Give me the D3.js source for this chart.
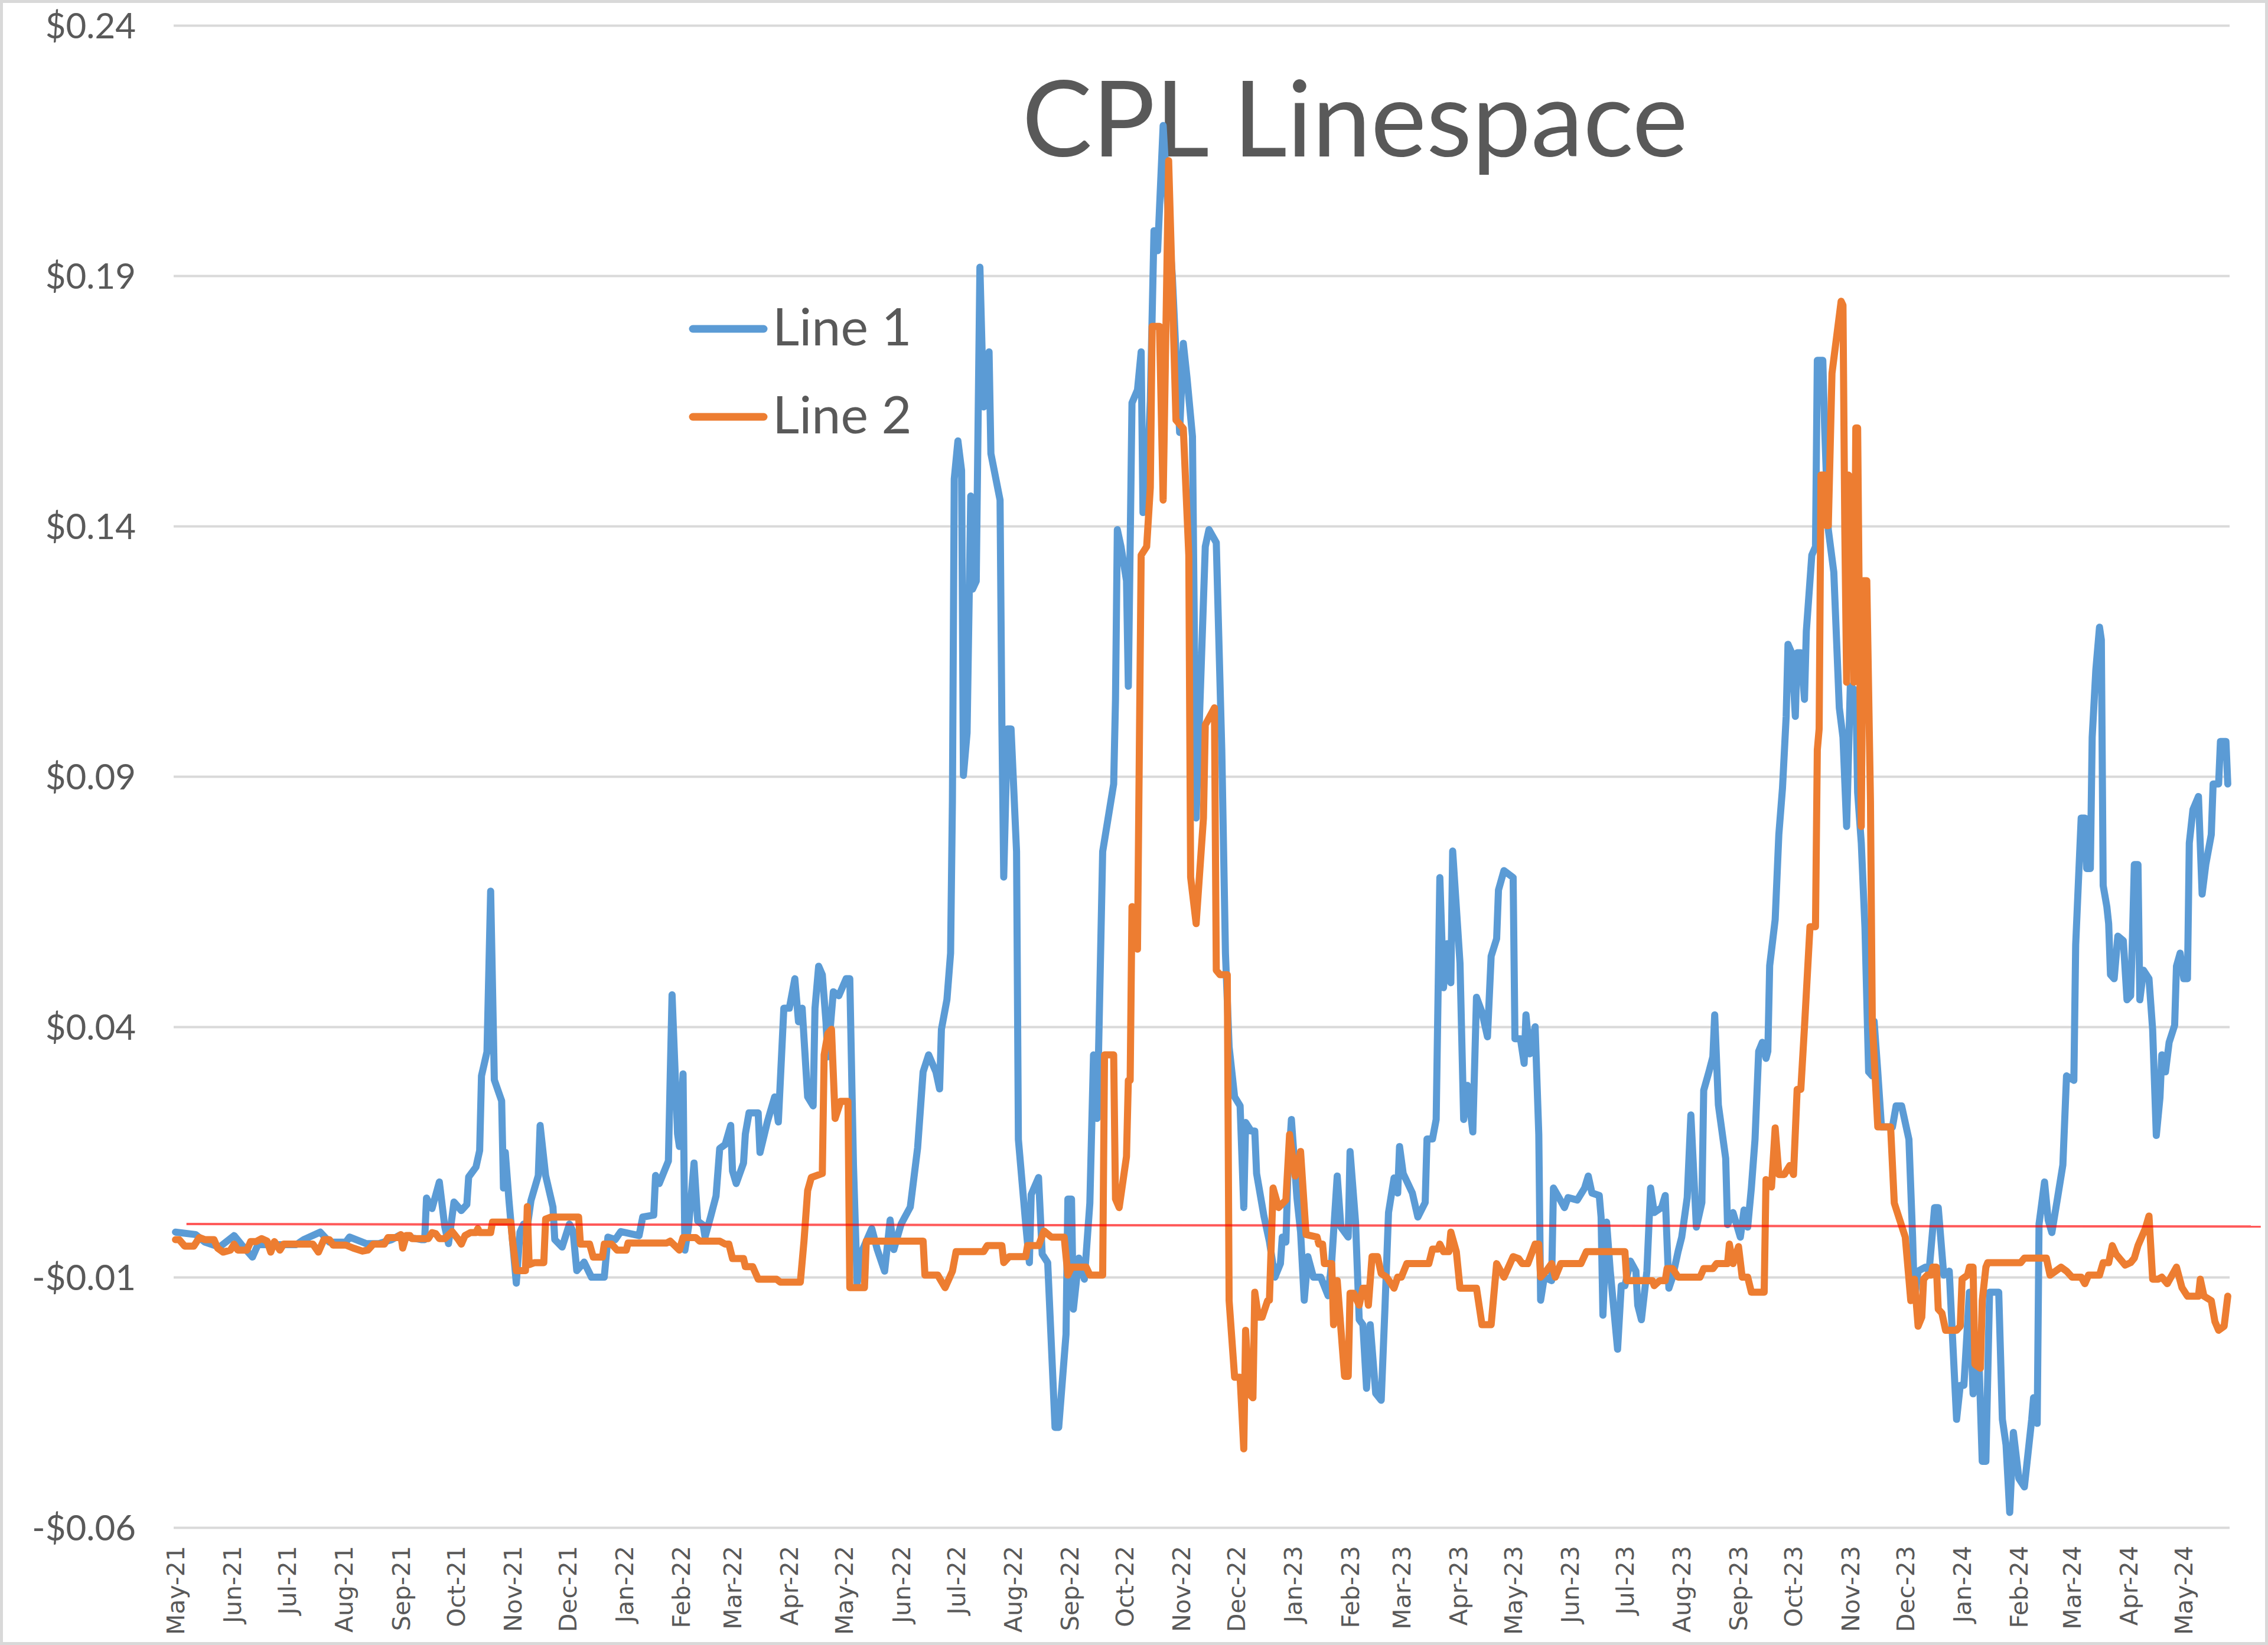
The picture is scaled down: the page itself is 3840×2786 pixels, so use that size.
<!DOCTYPE html>
<meta charset="utf-8">
<head>
  <title>CPL Linespace</title>
</head>
<style>
body { margin: 0; background: #fff; }
.ylab text { font-family: Lato, "Open Sans", sans-serif; font-size: 60px; fill: #595959; }
.xlab text { font-family: "DejaVu Sans", sans-serif; font-size: 41px; fill: #595959; }
</style>
<body>
<script src="https://d3js.org/d3.v7.min.js"></script>
<script>

// Line 1 (blue)
var line1Data = [
["2021-05-01",-0.001],["2021-05-12",-0.0015],["2021-05-17",-0.003],["2021-05-25",-0.004],["2021-06-02",-0.0017],["2021-06-06",-0.0035],["2021-06-12",-0.006],["2021-06-15",-0.0035],["2021-07-06",-0.0035],["2021-07-10",-0.0025],["2021-07-19",-0.001],["2021-07-24",-0.003],["2021-08-02",-0.003],["2021-08-04",-0.002],["2021-08-13",-0.0033],["2021-08-20",-0.0033],["2021-08-27",-0.0025],["2021-08-31",-0.0017],["2021-09-12",-0.0025],["2021-09-14",-0.0025],["2021-09-15",0.0058],["2021-09-18",0.0037],["2021-09-22",0.009],["2021-09-25",0.0],["2021-09-27",-0.0033],["2021-09-30",0.005],["2021-10-04",0.0033],["2021-10-07",0.0045],["2021-10-08",0.010],["2021-10-12",0.012],["2021-10-14",0.0153],["2021-10-15",0.0302],["2021-10-18",0.035],["2021-10-20",0.0671],["2021-10-22",0.0294],["2021-10-26",0.0252],["2021-10-27",0.0078],["2021-10-28",0.0149],["2021-10-30",0.0053],["2021-11-01",-0.003],["2021-11-03",-0.0112],["2021-11-05",-0.001],["2021-11-07",0.0006],["2021-11-09",0.0],["2021-11-11",0.0053],["2021-11-15",0.0103],["2021-11-16",0.0203],["2021-11-19",0.0103],["2021-11-23",0.004],["2021-11-24",-0.0025],["2021-11-28",-0.004],["2021-12-02",0.0006],["2021-12-04",-0.0009],["2021-12-06",-0.0087],["2021-12-10",-0.007],["2021-12-14",-0.01],["2021-12-21",-0.01],["2021-12-23",-0.002],["2021-12-27",-0.0025],["2021-12-30",-0.0009],
["2022-01-09",-0.0017],["2022-01-11",0.002],["2022-01-17",0.0024],["2022-01-18",0.0103],["2022-01-20",0.0087],["2022-01-25",0.0132],["2022-01-26",0.0302],["2022-01-27",0.0464],["2022-01-30",0.0186],["2022-01-31",0.0161],["2022-02-02",0.0306],["2022-02-03",-0.0046],["2022-02-05",0.0],["2022-02-08",0.0128],["2022-02-10",0.0012],["2022-02-13",0.0004],["2022-02-14",-0.002],["2022-02-17",0.002],["2022-02-20",0.0062],["2022-02-22",0.0157],["2022-02-25",0.0165],["2022-02-28",0.0203],["2022-03-01",0.0112],["2022-03-03",0.0087],["2022-03-07",0.0128],["2022-03-08",0.0186],["2022-03-10",0.0228],["2022-03-15",0.0228],["2022-03-16",0.0149],["2022-03-20",0.021],["2022-03-24",0.026],["2022-03-26",0.021],["2022-03-29",0.0437],["2022-04-01",0.0437],["2022-04-04",0.0496],["2022-04-06",0.041],["2022-04-08",0.0437],["2022-04-11",0.026],["2022-04-14",0.0242],["2022-04-15",0.0437],["2022-04-17",0.0521],["2022-04-19",0.0504],["2022-04-21",0.041],["2022-04-22",0.034],["2022-04-25",0.047],["2022-04-28",0.0462],["2022-05-02",0.0496],["2022-05-04",0.0496],["2022-05-06",0.0124],["2022-05-08",-0.0113],["2022-05-11",-0.0045],["2022-05-16",-0.0003],["2022-05-19",-0.0045],["2022-05-23",-0.0088],["2022-05-26",0.0014],["2022-05-28",-0.0045],["2022-06-01",0.0006],["2022-06-06",0.004],["2022-06-08",0.0099],["2022-06-10",0.0158],["2022-06-13",0.031],["2022-06-16",0.0344],["2022-06-20",0.031],["2022-06-22",0.0276],["2022-06-23",0.0395],["2022-06-26",0.0454],["2022-06-28",0.0547],["2022-06-29",0.0851],["2022-06-30",0.1494],["2022-07-02",0.157],["2022-07-04",0.1511],["2022-07-05",0.0902],["2022-07-07",0.0987],["2022-07-09",0.146],["2022-07-10",0.1274],["2022-07-12",0.129],["2022-07-14",0.1917],["2022-07-16",0.1638],["2022-07-19",0.1748],["2022-07-20",0.1545],["2022-07-25",0.1452],["2022-07-26",0.1003],["2022-07-27",0.0699],["2022-07-29",0.0995],["2022-07-31",0.0995],["2022-08-03",0.075],["2022-08-04",0.0175],["2022-08-08",0.0006],["2022-08-10",-0.0071],["2022-08-11",0.0065],["2022-08-15",0.0099],["2022-08-17",-0.0054],["2022-08-20",-0.0071],["2022-08-24",-0.04],["2022-08-26",-0.04],["2022-08-30",-0.0214],["2022-08-31",0.0056],["2022-09-02",0.0056],["2022-09-03",-0.0164],["2022-09-06",-0.0062],["2022-09-09",-0.0104],["2022-09-12",0.0048],["2022-09-14",0.0344],["2022-09-16",0.0217],["2022-09-19",0.075],["2022-09-25",0.0885],["2022-09-26",0.1054],["2022-09-27",0.1393],["2022-09-29",0.1359],["2022-10-02",0.1291],["2022-10-03",0.108],["2022-10-05",0.1646],["2022-10-08",0.1672],["2022-10-10",0.1748],["2022-10-11",0.1427],["2022-10-13",0.1477],["2022-10-15",0.165],["2022-10-17",0.199],["2022-10-19",0.195],["2022-10-22",0.220],["2022-10-24",0.207],["2022-10-26",0.195],["2022-10-27",0.19],["2022-10-31",0.1587],["2022-11-02",0.1765],["2022-11-04",0.1697],["2022-11-07",0.1579],["2022-11-09",0.0817],["2022-11-11",0.1037],["2022-11-14",0.1359],["2022-11-16",0.1393],["2022-11-20",0.1367],["2022-11-23",0.0953],["2022-11-25",0.0547],["2022-11-27",0.036],["2022-11-30",0.026],["2022-12-03",0.0242],["2022-12-05",0.0039],["2022-12-06",0.0209],["2022-12-09",0.0192],["2022-12-11",0.0192],["2022-12-12",0.0107],["2022-12-16",0.0022],["2022-12-19",-0.0029],["2022-12-22",-0.01],["2022-12-25",-0.0073],["2022-12-26",-0.002],["2022-12-28",-0.003],["2022-12-29",0.0098],["2022-12-31",0.0215],
["2023-01-03",0.0059],["2023-01-05",-0.001],["2023-01-07",-0.0146],["2023-01-09",-0.0059],["2023-01-12",-0.01],["2023-01-16",-0.01],["2023-01-20",-0.0137],["2023-01-22",-0.0068],["2023-01-25",0.0102],["2023-01-27",0.0],["2023-01-31",-0.002],["2023-02-01",0.0151],["2023-02-04",0.001],["2023-02-06",-0.0185],["2023-02-08",-0.0195],["2023-02-10",-0.0322],["2023-02-12",-0.0195],["2023-02-15",-0.0332],["2023-02-18",-0.0346],["2023-02-20",-0.0166],["2023-02-22",0.0029],["2023-02-25",0.0098],["2023-02-27",0.0068],["2023-02-28",0.0161],["2023-03-02",0.0107],["2023-03-07",0.0068],["2023-03-10",0.002],["2023-03-14",0.0049],["2023-03-15",0.0176],["2023-03-18",0.0176],["2023-03-20",0.0215],["2023-03-22",0.0698],["2023-03-24",0.0478],["2023-03-26",0.0566],["2023-03-28",0.0488],["2023-03-29",0.0751],["2023-04-02",0.0527],["2023-04-04",0.0215],["2023-04-06",0.0283],["2023-04-09",0.019],["2023-04-11",0.0459],["2023-04-14",0.0429],["2023-04-17",0.038],["2023-04-19",0.0541],["2023-04-22",0.0576],["2023-04-23",0.0673],["2023-04-26",0.0712],["2023-05-01",0.0698],["2023-05-02",0.0376],["2023-05-05",0.0376],["2023-05-07",0.0327],["2023-05-08",0.0424],["2023-05-10",0.0346],["2023-05-13",0.040],["2023-05-15",0.0185],["2023-05-16",-0.0146],["2023-05-18",-0.01],["2023-05-22",-0.0107],["2023-05-23",0.0078],["2023-05-26",0.0059],["2023-05-29",0.0039],["2023-05-31",0.0059],["2023-06-05",0.0054],["2023-06-09",0.0078],["2023-06-11",0.0102],["2023-06-13",0.0068],["2023-06-17",0.0063],["2023-06-18",0.002],["2023-06-19",-0.0176],["2023-06-21",0.001],["2023-06-23",-0.0088],["2023-06-27",-0.0244],["2023-06-29",-0.0117],["2023-07-01",-0.0117],["2023-07-04",-0.0068],["2023-07-07",-0.0088],["2023-07-08",-0.0156],["2023-07-10",-0.0185],["2023-07-13",-0.0088],["2023-07-15",0.0078],["2023-07-17",0.0029],["2023-07-21",0.0039],["2023-07-23",0.0063],["2023-07-25",-0.0122],["2023-07-27",-0.01],["2023-07-30",-0.0049],["2023-08-01",-0.002],["2023-08-04",0.0059],["2023-08-06",0.0224],["2023-08-09",0.0],["2023-08-12",0.0049],["2023-08-13",0.0273],["2023-08-16",0.0312],["2023-08-18",0.034],["2023-08-19",0.0424],["2023-08-21",0.0244],["2023-08-25",0.0137],["2023-08-26",0.0005],["2023-08-29",0.0029],["2023-09-02",-0.002],["2023-09-04",0.0034],["2023-09-06",0.0],["2023-09-08",0.0078],["2023-09-10",0.0175],["2023-09-12",0.0351],["2023-09-14",0.0369],["2023-09-16",0.0337],["2023-09-17",0.0351],["2023-09-18",0.0522],["2023-09-21",0.0614],["2023-09-23",0.0784],["2023-09-25",0.0877],["2023-09-27",0.102],["2023-09-28",0.1164],["2023-09-30",0.1147],["2023-10-02",0.102],["2023-10-03",0.1147],["2023-10-05",0.1147],["2023-10-07",0.1054],["2023-10-08",0.119],["2023-10-11",0.1342],["2023-10-13",0.1359],["2023-10-14",0.1731],["2023-10-17",0.1731],["2023-10-18",0.1596],["2023-10-20",0.1393],["2023-10-23",0.1308],["2023-10-26",0.1037],["2023-10-28",0.0978],["2023-10-30",0.08],["2023-11-01",0.108],["2023-11-04",0.1071],["2023-11-05",0.0868],["2023-11-07",0.0767],["2023-11-09",0.0598],["2023-11-11",0.031],["2023-11-13",0.0302],["2023-11-14",0.0411],["2023-11-16",0.031],["2023-11-18",0.02],["2023-11-24",0.02],["2023-11-26",0.0242],["2023-11-29",0.0242],["2023-12-03",0.0175],["2023-12-05",-0.002],["2023-12-06",-0.0147],["2023-12-08",-0.0088],["2023-12-12",-0.008],["2023-12-14",-0.0088],["2023-12-17",0.0039],["2023-12-19",0.0039],["2023-12-22",-0.0096],["2023-12-25",-0.0088],["2023-12-29",-0.0384],["2023-12-31",-0.0316],
["2024-01-02",-0.0316],["2024-01-05",-0.013],["2024-01-07",-0.0333],["2024-01-10",-0.024],["2024-01-12",-0.0468],["2024-01-14",-0.0468],["2024-01-16",-0.013],["2024-01-21",-0.013],["2024-01-23",-0.0384],["2024-01-25",-0.0435],["2024-01-27",-0.057],["2024-01-29",-0.041],["2024-02-01",-0.0502],["2024-02-04",-0.0519],["2024-02-08",-0.0384],["2024-02-09",-0.0341],["2024-02-11",-0.0392],["2024-02-12",0.0006],["2024-02-15",0.009],["2024-02-17",0.0014],["2024-02-19",-0.0011],["2024-02-22",0.0056],["2024-02-25",0.0124],["2024-02-27",0.0302],["2024-03-02",0.0293],["2024-03-03",0.0564],["2024-03-05",0.0733],["2024-03-06",0.0817],["2024-03-08",0.0817],["2024-03-09",0.0716],["2024-03-11",0.0716],["2024-03-12",0.0978],["2024-03-14",0.1113],["2024-03-16",0.1198],["2024-03-17",0.1173],["2024-03-18",0.0682],["2024-03-20",0.064],["2024-03-21",0.0606],["2024-03-22",0.0504],["2024-03-24",0.0496],["2024-03-26",0.0581],["2024-03-29",0.0572],["2024-03-31",0.0454],["2024-04-02",0.0462],["2024-04-03",0.0581],["2024-04-04",0.0724],["2024-04-06",0.0724],["2024-04-07",0.0454],["2024-04-09",0.0513],["2024-04-12",0.0496],["2024-04-14",0.0394],["2024-04-16",0.0183],["2024-04-18",0.0259],["2024-04-19",0.0344],["2024-04-21",0.031],["2024-04-23",0.0369],["2024-04-26",0.0403],["2024-04-27",0.0521],["2024-04-29",0.0547],["2024-05-01",0.0496],["2024-05-03",0.0496],["2024-05-04",0.0767],["2024-05-06",0.0834],["2024-05-09",0.086],["2024-05-11",0.0665],["2024-05-13",0.0724],["2024-05-16",0.0784],["2024-05-17",0.0885],["2024-05-20",0.0885],["2024-05-21",0.097],["2024-05-24",0.097],["2024-05-25",0.0885]
];

// Line 2 (orange)
var line2Data = [
["2021-05-01",-0.0025],["2021-05-03",-0.0025],["2021-05-06",-0.0038],["2021-05-11",-0.0038],["2021-05-14",-0.0021],["2021-05-17",-0.0025],["2021-05-22",-0.0025],["2021-05-24",-0.0042],["2021-05-27",-0.005],["2021-05-31",-0.0046],["2021-06-02",-0.0034],["2021-06-04",-0.0046],["2021-06-09",-0.0046],["2021-06-11",-0.0029],["2021-06-14",-0.0029],["2021-06-17",-0.0023],["2021-06-20",-0.0028],["2021-06-22",-0.005],["2021-06-24",-0.0029],["2021-06-27",-0.0046],["2021-06-29",-0.0034],["2021-07-15",-0.0034],["2021-07-18",-0.005],["2021-07-21",-0.0025],["2021-07-24",-0.0025],["2021-07-26",-0.0036],["2021-08-02",-0.0036],["2021-08-06",-0.0042],["2021-08-11",-0.0048],["2021-08-14",-0.0046],["2021-08-17",-0.0034],["2021-08-23",-0.0034],["2021-08-25",-0.0021],["2021-08-30",-0.0021],["2021-09-01",-0.0015],["2021-09-02",-0.0042],["2021-09-04",-0.0017],["2021-09-06",-0.0017],["2021-09-07",-0.0023],["2021-09-16",-0.0023],["2021-09-18",-0.0011],["2021-09-20",-0.0013],["2021-09-22",-0.0023],["2021-09-25",-0.0023],["2021-09-29",-0.0009],["2021-10-02",-0.0023],["2021-10-04",-0.0034],["2021-10-06",-0.0017],["2021-10-09",-0.0011],["2021-10-12",-0.0011],["2021-10-13",-0.0003],["2021-10-14",-0.0011],["2021-10-20",-0.0011],["2021-10-21",0.001],["2021-10-31",0.001],["2021-11-01",-0.0029],["2021-11-03",-0.0087],["2021-11-08",-0.0087],["2021-11-09",0.0041],["2021-11-10",-0.0075],["2021-11-13",-0.0071],["2021-11-18",-0.0071],["2021-11-19",0.0016],["2021-11-22",0.002],["2021-12-07",0.002],["2021-12-08",-0.0034],["2021-12-13",-0.0034],["2021-12-15",-0.006],["2021-12-20",-0.006],["2021-12-21",-0.0034],["2021-12-25",-0.0034],["2021-12-28",-0.0046],
["2022-01-02",-0.0046],["2022-01-03",-0.0032],["2022-01-24",-0.0032],["2022-01-26",-0.0028],["2022-01-31",-0.0046],["2022-02-02",-0.0021],["2022-02-09",-0.0021],["2022-02-11",-0.0028],["2022-02-22",-0.0028],["2022-02-25",-0.0034],["2022-02-27",-0.0034],["2022-03-01",-0.0063],["2022-03-07",-0.0063],["2022-03-08",-0.0079],["2022-03-12",-0.0079],["2022-03-15",-0.0104],["2022-03-25",-0.0104],["2022-03-27",-0.011],["2022-04-07",-0.011],["2022-04-09",-0.0028],["2022-04-11",0.0073],["2022-04-13",0.0099],["2022-04-19",0.0107],["2022-04-20",0.0344],["2022-04-22",0.0386],["2022-04-24",0.0395],["2022-04-26",0.0217],["2022-04-29",0.0251],["2022-05-03",0.0251],["2022-05-04",-0.0121],["2022-05-12",-0.0121],["2022-05-13",-0.0028],["2022-06-13",-0.0028],["2022-06-14",-0.0096],["2022-06-21",-0.0096],["2022-06-25",-0.0121],["2022-06-29",-0.0088],["2022-07-01",-0.0049],["2022-07-16",-0.0049],["2022-07-18",-0.0037],["2022-07-26",-0.0037],["2022-07-27",-0.0071],["2022-07-30",-0.0059],["2022-08-08",-0.0059],["2022-08-09",-0.0037],["2022-08-15",-0.0037],["2022-08-18",-0.0008],["2022-08-22",-0.002],["2022-08-29",-0.002],["2022-08-31",-0.0096],["2022-09-02",-0.008],["2022-09-10",-0.008],["2022-09-12",-0.0096],["2022-09-19",-0.0096],["2022-09-20",0.0344],["2022-09-25",0.0344],["2022-09-26",0.0056],["2022-09-28",0.0039],["2022-10-02",0.0141],["2022-10-03",0.0293],["2022-10-04",0.0293],["2022-10-05",0.064],["2022-10-08",0.0555],["2022-10-10",0.1342],["2022-10-13",0.1359],["2022-10-15",0.1477],["2022-10-16",0.1799],["2022-10-20",0.1799],["2022-10-22",0.1452],["2022-10-25",0.213],["2022-10-29",0.1612],["2022-11-02",0.1595],["2022-11-05",0.1342],["2022-11-06",0.0699],["2022-11-09",0.0606],["2022-11-13",0.0817],["2022-11-14",0.1003],["2022-11-19",0.1037],["2022-11-20",0.0513],["2022-11-22",0.0504],["2022-11-26",0.0504],["2022-11-27",-0.0147],["2022-11-30",-0.03],["2022-12-03",-0.03],["2022-12-05",-0.0443],["2022-12-06",-0.0206],["2022-12-08",-0.0333],["2022-12-10",-0.0341],["2022-12-11",-0.013],["2022-12-13",-0.018],["2022-12-15",-0.018],["2022-12-18",-0.0147],["2022-12-19",-0.0146],["2022-12-21",0.0078],["2022-12-24",0.0039],["2022-12-28",0.0054],["2022-12-30",0.0185],
["2023-01-02",0.0102],["2023-01-05",0.0151],["2023-01-08",-0.0015],["2023-01-14",-0.002],["2023-01-15",-0.0034],["2023-01-17",-0.0034],["2023-01-18",-0.0073],["2023-01-22",-0.0073],["2023-01-23",-0.0195],["2023-01-25",-0.0107],["2023-01-29",-0.0298],["2023-01-31",-0.0298],["2023-02-01",-0.0132],["2023-02-03",-0.0132],["2023-02-06",-0.0156],["2023-02-08",-0.0122],["2023-02-10",-0.0122],["2023-02-11",-0.0156],["2023-02-13",-0.0059],["2023-02-16",-0.0059],["2023-02-18",-0.0093],["2023-02-21",-0.01],["2023-02-25",-0.0122],["2023-02-27",-0.01],["2023-03-01",-0.01],["2023-03-04",-0.0073],["2023-03-16",-0.0073],["2023-03-18",-0.0044],["2023-03-21",-0.0044],["2023-03-22",-0.0034],["2023-03-24",-0.0049],["2023-03-27",-0.0049],["2023-03-28",-0.001],["2023-03-31",-0.0049],["2023-04-02",-0.0122],["2023-04-11",-0.0122],["2023-04-14",-0.0195],["2023-04-19",-0.0195],["2023-04-22",-0.0073],["2023-04-26",-0.01],["2023-05-01",-0.0059],["2023-05-04",-0.0063],["2023-05-06",-0.0073],["2023-05-09",-0.0073],["2023-05-13",-0.0034],["2023-05-15",-0.0034],["2023-05-16",-0.01],["2023-05-19",-0.0088],["2023-05-22",-0.0073],["2023-05-24",-0.01],["2023-05-27",-0.0073],["2023-06-07",-0.0073],["2023-06-10",-0.0049],["2023-07-01",-0.0049],["2023-07-02",-0.0107],["2023-07-16",-0.0107],["2023-07-17",-0.0117],["2023-07-20",-0.0107],["2023-07-23",-0.0107],["2023-07-24",-0.0083],["2023-07-27",-0.0083],["2023-07-30",-0.01],["2023-08-11",-0.01],["2023-08-13",-0.0083],["2023-08-18",-0.0083],["2023-08-20",-0.0073],["2023-08-26",-0.0073],["2023-08-27",-0.0034],["2023-08-29",-0.0073],["2023-09-01",-0.0039],["2023-09-03",-0.01],["2023-09-06",-0.01],["2023-09-08",-0.013],["2023-09-15",-0.013],["2023-09-16",0.0095],["2023-09-19",0.008],["2023-09-21",0.0198],["2023-09-23",0.0105],["2023-09-26",0.0105],["2023-09-29",0.0123],["2023-10-01",0.0105],["2023-10-03",0.0275],["2023-10-05",0.0275],["2023-10-07",0.040],["2023-10-10",0.060],["2023-10-13",0.060],["2023-10-14",0.0953],["2023-10-15",0.0995],["2023-10-16",0.1502],["2023-10-18",0.1502],["2023-10-19",0.1401],["2023-10-20",0.1401],["2023-10-22",0.1705],["2023-10-27",0.1849],["2023-10-28",0.1841],["2023-10-29",0.1393],["2023-10-30",0.1088],["2023-10-31",0.1502],["2023-11-02",0.1494],["2023-11-03",0.1088],["2023-11-04",0.1596],["2023-11-05",0.1596],["2023-11-07",0.08],["2023-11-08",0.1291],["2023-11-10",0.1291],["2023-11-12",0.0851],["2023-11-13",0.0411],["2023-11-16",0.02],["2023-11-23",0.02],["2023-11-25",0.0048],["2023-11-28",0.0014],["2023-12-01",-0.002],["2023-12-03",-0.0104],["2023-12-04",-0.0147],["2023-12-06",-0.0104],["2023-12-08",-0.0198],["2023-12-10",-0.018],["2023-12-11",-0.0104],["2023-12-13",-0.0096],["2023-12-15",-0.0096],["2023-12-16",-0.008],["2023-12-18",-0.008],["2023-12-19",-0.0164],["2023-12-21",-0.0172],["2023-12-23",-0.0206],["2023-12-29",-0.0206],["2023-12-31",-0.0198],
["2024-01-01",-0.0104],["2024-01-04",-0.0096],["2024-01-05",-0.008],["2024-01-07",-0.008],["2024-01-08",-0.0274],["2024-01-11",-0.0282],["2024-01-12",-0.0147],["2024-01-14",-0.008],["2024-01-15",-0.0071],["2024-02-02",-0.0071],["2024-02-04",-0.0062],["2024-02-16",-0.0062],["2024-02-18",-0.0096],["2024-02-24",-0.008],["2024-02-27",-0.0088],["2024-03-01",-0.01],["2024-03-06",-0.01],["2024-03-08",-0.0113],["2024-03-10",-0.0096],["2024-03-16",-0.0096],["2024-03-18",-0.0071],["2024-03-21",-0.0071],["2024-03-23",-0.0037],["2024-03-25",-0.0054],["2024-03-30",-0.0076],["2024-04-02",-0.0071],["2024-04-04",-0.0062],["2024-04-06",-0.0037],["2024-04-08",-0.002],["2024-04-10",-0.0003],["2024-04-12",0.0022],["2024-04-14",-0.0104],["2024-04-17",-0.0104],["2024-04-19",-0.01],["2024-04-22",-0.0113],["2024-04-27",-0.008],["2024-04-30",-0.0121],["2024-05-03",-0.0138],["2024-05-09",-0.0138],["2024-05-10",-0.0104],["2024-05-12",-0.0138],["2024-05-16",-0.0147],["2024-05-18",-0.0189],["2024-05-20",-0.0206],["2024-05-23",-0.0198],["2024-05-25",-0.0138]
];

var seriesNames = ["Line 1", "Line 2"];
var seriesColors = ["#5B9BD5", "#ED7D31"];
var yTicks = [-0.06, -0.01, 0.04, 0.09, 0.14, 0.19, 0.24];
var xRange = ["2021-04-30", "2024-05-26"];
var monthRange = ["2021-05-01", "2024-05-02"];
// hand drawn red line near zero
var redLine = [["2021-05-07", 0.0006], ["2024-06-12", 0.0001]];
var titleText = "CPL Linespace";

var width = 3840,
    height = 2786;
var margin = {top: 43, right: 65, bottom: 199, left: 294};

var parse = d3.utcParse("%Y-%m-%d");

var svg = d3.select("body").append("svg")
    .attr("width", width)
    .attr("height", height);

svg.append("rect")
    .attr("width", width)
    .attr("height", height)
    .attr("fill", "#fff");

// chart border
svg.append("rect")
    .attr("x", 2.5).attr("y", 2.5)
    .attr("width", width - 5).attr("height", height - 5)
    .attr("fill", "none")
    .attr("stroke", "#d9d9d9")
    .attr("stroke-width", 5);

var x = d3.scaleUtc()
    .domain(xRange.map(parse))
    .range([margin.left, width - margin.right]);

var y = d3.scaleLinear()
    .domain([-0.06, 0.24])
    .range([height - margin.bottom, margin.top]);

function money(v) {
  var s = "$" + Math.abs(v).toFixed(2);
  return v < 0 ? "-" + s : s;
}

// y axis + gridlines
var yAxis = svg.append("g")
    .attr("class", "ylab")
    .attr("transform", "translate(" + margin.left + ",0)")
    .call(d3.axisLeft(y)
      .tickValues(yTicks)
      .tickSize(-(width - margin.left - margin.right))
      .tickPadding(64)
      .tickFormat(money));
yAxis.select(".domain").remove();
yAxis.selectAll("line")
    .attr("stroke", "#d9d9d9")
    .attr("stroke-width", 4);
yAxis.selectAll("text")
    .attr("dy", "0.36em");
yAxis.attr("font-family", null).attr("font-size", null);

// x axis, one label per month, turned on its side
var months = d3.utcMonth.range(parse(monthRange[0]), parse(monthRange[1]));
var xAxis = svg.append("g")
    .attr("class", "xlab")
    .attr("transform", "translate(0," + (height - margin.bottom) + ")")
    .call(d3.axisBottom(x)
      .tickValues(months)
      .tickSize(0)
      .tickFormat(d3.utcFormat("%b-%y")));
xAxis.select(".domain").remove();
xAxis.attr("font-family", null).attr("font-size", null);
xAxis.selectAll("text")
    .attr("transform", "rotate(-90)")
    .attr("text-anchor", "end")
    .attr("x", -31)
    .attr("y", 0)
    .attr("dy", "0.35em");

// title sits behind the lines
svg.append("text")
    .attr("x", 2294)
    .attr("y", 265)
    .attr("text-anchor", "middle")
    .attr("font-family", "Lato, 'Open Sans', sans-serif")
    .attr("font-size", 178)
    .attr("fill", "#595959")
    .text(titleText);

var line = d3.line()
    .x(function(d) { return x(parse(d[0])); })
    .y(function(d) { return y(d[1]); });

[line1Data, line2Data].forEach(function(data, i) {
  svg.append("path")
      .datum(data)
      .attr("d", line)
      .attr("fill", "none")
      .attr("stroke", seriesColors[i])
      .attr("stroke-width", 12)
      .attr("stroke-linejoin", "round")
      .attr("stroke-linecap", "round");
});

svg.append("path")
    .datum(redLine)
    .attr("d", line)
    .attr("fill", "none")
    .attr("stroke", "#ff0000")
    .attr("stroke-opacity", 0.65)
    .attr("stroke-width", 4);

// legend
var legend = svg.append("g")
    .attr("transform", "translate(1173,557)");
var item = legend.selectAll("g")
    .data(seriesNames)
    .enter().append("g")
    .attr("transform", function(d, i) { return "translate(0," + (i * 149) + ")"; });
item.append("line")
    .attr("x1", 0).attr("x2", 120)
    .attr("stroke", function(d, i) { return seriesColors[i]; })
    .attr("stroke-width", 13)
    .attr("stroke-linecap", "round");
item.append("text")
    .attr("x", 135)
    .attr("y", 28)
    .attr("font-family", "Lato, 'Open Sans', sans-serif")
    .attr("font-size", 88)
    .attr("fill", "#595959")
    .text(function(d) { return d; });

</script>
</body>
